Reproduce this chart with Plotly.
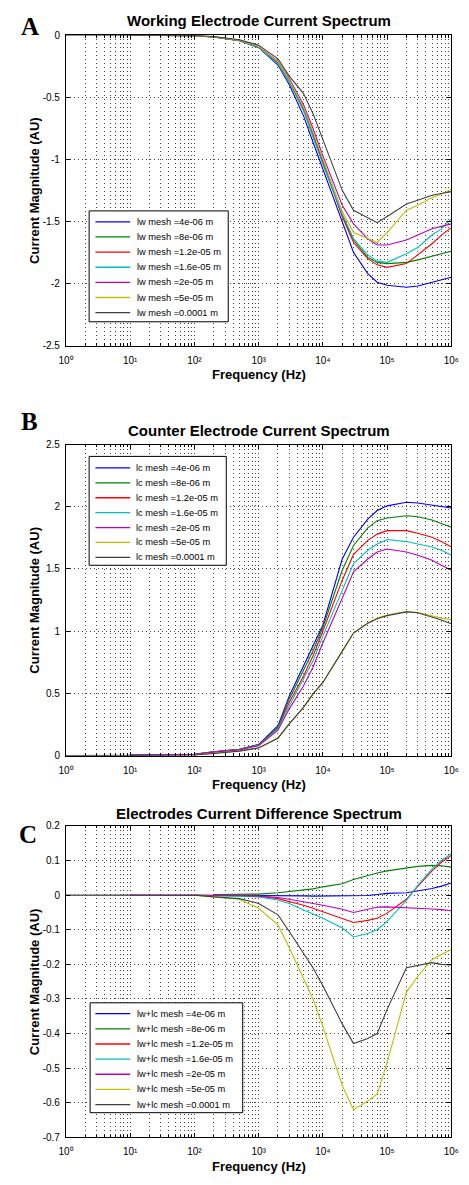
import plotly.graph_objects as go

W, H = 469, 1185

# ---------------- data ----------------
freq = [1, 10, 100, 200, 500, 1e3, 2e3, 3e3, 5e3, 7e3, 1e4, 2e4, 3e4, 5e4, 7e4,
        1e5, 2e5, 3e5, 5e5, 7e5, 1e6]

mesh_sizes = ['4e-06', '8e-06', '1.2e-05', '1.6e-05', '2e-05', '5e-05', '0.0001']
line_colors = ['#0000ff', '#008000', '#ff0000', '#00bfbf', '#bf00bf', '#bfbf00', '#404040']

# Panel A: working electrode current
work_4e6 = [None, 0, -0.005, -0.015, -0.045, -0.10, -0.24, -0.40, -0.65, -0.86, -1.08, -1.50, -1.75, -1.92, -1.99, -2.015, -2.03, -2.02, -1.99, -1.97, -1.95]
work_8e6 = [None, 0, -0.005, -0.014, -0.043, -0.095, -0.225, -0.37, -0.60, -0.80, -1.03, -1.45, -1.65, -1.79, -1.83, -1.84, -1.83, -1.81, -1.78, -1.76, -1.74]
work_12e6 = [None, 0, -0.005, -0.014, -0.043, -0.095, -0.22, -0.37, -0.59, -0.79, -1.02, -1.46, -1.67, -1.80, -1.85, -1.87, -1.84, -1.77, -1.68, -1.61, -1.55]
work_16e6 = [None, 0, -0.005, -0.015, -0.044, -0.098, -0.23, -0.38, -0.61, -0.82, -1.04, -1.44, -1.64, -1.77, -1.82, -1.83, -1.76, -1.71, -1.61, -1.56, -1.48]
work_2e5 = [None, 0, -0.004, -0.013, -0.040, -0.09, -0.21, -0.35, -0.56, -0.75, -0.97, -1.37, -1.52, -1.64, -1.69, -1.69, -1.65, -1.61, -1.56, -1.54, -1.52]
work_5e5 = [None, 0, -0.004, -0.013, -0.041, -0.09, -0.215, -0.36, -0.58, -0.78, -1.00, -1.42, -1.59, -1.64, -1.67, -1.59, -1.41, -1.37, -1.31, -1.28, -1.24]
work_1e4 = [0, 0, -0.003, -0.011, -0.036, -0.08, -0.19, -0.33, -0.47, -0.63, -0.84, -1.25, -1.41, -1.47, -1.51, -1.46, -1.36, -1.33, -1.29, -1.275, -1.26]

# Panel B: counter electrode current
count_4e6 = [None, 0.005, 0.01, 0.03, 0.05, 0.09, 0.24, 0.48, 0.72, 0.88, 1.05, 1.58, 1.755, 1.90, 1.97, 2.007, 2.036, 2.03, 2.015, 2.0, 1.99]
count_8e6 = [None, 0.005, 0.01, 0.03, 0.05, 0.088, 0.23, 0.456, 0.68, 0.84, 1.03, 1.49, 1.689, 1.83, 1.888, 1.909, 1.928, 1.92, 1.893, 1.865, 1.835]
count_12e6 = [None, 0.005, 0.01, 0.03, 0.048, 0.085, 0.22, 0.43, 0.64, 0.80, 1.0, 1.41, 1.617, 1.73, 1.78, 1.808, 1.808, 1.787, 1.755, 1.72, 1.676]
count_16e6 = [None, 0.005, 0.01, 0.029, 0.047, 0.083, 0.217, 0.40, 0.615, 0.76, 0.96, 1.33, 1.543, 1.65, 1.70, 1.737, 1.72, 1.70, 1.676, 1.65, 1.61]
count_2e5 = [None, 0.005, 0.01, 0.028, 0.045, 0.08, 0.204, 0.376, 0.562, 0.71, 0.907, 1.265, 1.477, 1.58, 1.636, 1.66, 1.636, 1.61, 1.57, 1.53, 1.49]
count_5e5 = [None, None, 0.005, 0.018, 0.037, 0.063, 0.143, 0.257, 0.39, 0.496, 0.59, 0.84, 0.986, 1.066, 1.105, 1.13, 1.158, 1.15, 1.12, 1.105, 1.092]
count_1e4 = [0, 0.002, 0.005, 0.017, 0.036, 0.062, 0.14, 0.255, 0.388, 0.494, 0.588, 0.838, 0.985, 1.064, 1.10, 1.125, 1.155, 1.148, 1.115, 1.09, 1.06]

# Panel C: electrodes current difference
diff_4e6 = [None, None, None, 0, 0, 0, 0, -0.001, -0.002, -0.003, -0.003, -0.003, -0.003, -0.001, 0.002, 0.005, 0.007, 0.012, 0.019, 0.026, 0.035]
diff_8e6 = [None, None, None, 0.002, 0.002, 0.003, 0.007, 0.010, 0.014, 0.018, 0.024, 0.033, 0.045, 0.057, 0.064, 0.070, 0.079, 0.083, 0.086, 0.085, 0.081]
diff_12e6 = [None, None, 0, -0.001, -0.002, -0.003, -0.010, -0.018, -0.029, -0.038, -0.048, -0.067, -0.079, -0.073, -0.067, -0.052, -0.012, 0.025, 0.070, 0.095, 0.115]
diff_16e6 = [None, None, 0, -0.001, -0.002, -0.005, -0.014, -0.024, -0.043, -0.055, -0.067, -0.095, -0.121, -0.111, -0.100, -0.076, -0.015, 0.028, 0.075, 0.100, 0.120]
diff_2e5 = [None, 0, 0, 0, -0.001, -0.003, -0.007, -0.012, -0.019, -0.024, -0.029, -0.041, -0.050, -0.041, -0.035, -0.034, -0.036, -0.038, -0.040, -0.042, -0.045]
diff_5e5 = [None, None, 0, -0.005, -0.012, -0.038, -0.086, -0.152, -0.239, -0.30, -0.38, -0.55, -0.62, -0.595, -0.574, -0.484, -0.28, -0.235, -0.186, -0.172, -0.157]
diff_1e4 = [0, 0, 0, -0.005, -0.010, -0.024, -0.057, -0.105, -0.166, -0.21, -0.262, -0.372, -0.429, -0.414, -0.400, -0.330, -0.210, -0.203, -0.195, -0.200, -0.202]

xtick_vals = [1, 10, 100, 1e3, 1e4, 1e5, 1e6]
xtick_text = ['10\u2070', '10\u00b9', '10\u00b2', '10\u00b3', '10\u2074', '10\u2075', '10\u2076']
xminor_vals = [m * 10 ** e for e in range(6) for m in range(2, 10)]

ytick_vals_A = [0, -0.5, -1, -1.5, -2, -2.5]
ytick_text_A = ['0', '-0.5', '-1', '-1.5', '-2', '-2.5']
ytick_vals_B = [0, 0.5, 1, 1.5, 2, 2.5]
ytick_text_B = ['0', '0.5', '1', '1.5', '2', '2.5']
ytick_vals_C = [0.2, 0.1, 0, -0.1, -0.2, -0.3, -0.4, -0.5, -0.6, -0.7]
ytick_text_C = ['0.2', '0.1', '0', '-0.1', '-0.2', '-0.3', '-0.4', '-0.5', '-0.6', '-0.7']

titles = ['Working Electrode Current Spectrum', 'Counter Electrode Current Spectrum',
          'Electrodes Current Difference Spectrum']
legend_prefix = ['lw mesh =', 'lc mesh =', 'lw+lc mesh =']
panel_letters = ['A', 'B', 'C']
xlabel = 'Frequency (Hz)'
ylabel = 'Current Magnitude (AU)'

panel_series = [
    [work_4e6, work_8e6, work_12e6, work_16e6, work_2e5, work_5e5, work_1e4],
    [count_4e6, count_8e6, count_12e6, count_16e6, count_2e5, count_5e5, count_1e4],
    [diff_4e6, diff_8e6, diff_12e6, diff_16e6, diff_2e5, diff_5e5, diff_1e4],
]

# ---------------- layout geometry (pixels) ----------------
SANS = 'Liberation Sans, Arial, Helvetica, sans-serif'
SERIF = 'Liberation Serif, Times New Roman, serif'
XL, XR = 60, 459
panels_px = [(29.5, 343.0), (443.0, 757.3), (828.3, 1143.0)]
y_ranges = [[-2.5, 0], [0, 2.5], [-0.7, 0.2]]
ytick_vals = [ytick_vals_A, ytick_vals_B, ytick_vals_C]
ytick_text = [ytick_text_A, ytick_text_B, ytick_text_C]
legend_boxes = [(84, 207, 228, 319), (84, 455, 226, 565), (85, 1007, 243, 1118)]
legend_first = [218.0, 466.7, 1018.0]
legend_step = [15.3, 15.05, 15.3]
legend_text_x = [131, 130, 131.5]
title_y = [14.5, 429.0, 815.5]
letter_pos = [(23, 21), (22, 420), (21, 837)]


def px(x):
    return x / W


def py(y):
    return 1 - y / H


GRID = '#444444'
DOT = '1px,3px'

fig = go.Figure()
shapes = []
annotations = []
layout = {}

for p in range(3):
    sfx = '' if p == 0 else str(p + 1)
    xname, yname = 'x' + sfx, 'y' + sfx
    top, bot = panels_px[p]
    for k, ser in enumerate(panel_series[p]):
        fig.add_trace(go.Scatter(
            x=freq, y=ser, mode='lines', xaxis=xname, yaxis=yname,
            line=dict(color=line_colors[k], width=1.1),
            name=legend_prefix[p] + mesh_sizes[k] + ' m', showlegend=False,
            hoverinfo='skip'))
    layout['xaxis' + sfx] = dict(
        type='log', range=[0, 6], domain=[px(XL), px(XR)], anchor=yname,
        tickmode='array', tickvals=xtick_vals, ticktext=xtick_text,
        ticks='inside', ticklen=4, tickcolor='black', tickwidth=1,
        showline=True, linecolor='black', linewidth=1, mirror='allticks',
        showgrid=True, gridcolor=GRID, gridwidth=1, griddash=DOT,
        minor=dict(tickmode='array', tickvals=xminor_vals, ticks='inside', ticklen=2.5,
                   tickcolor='black', tickwidth=1, showgrid=True, gridcolor=GRID,
                   gridwidth=1, griddash=DOT),
        tickfont=dict(family=SANS, size=10, color='black'),
        zeroline=False, ticklabelstandoff=5)
    layout['yaxis' + sfx] = dict(
        range=y_ranges[p], domain=[py(bot), py(top)], anchor=xname,
        tickmode='array', tickvals=ytick_vals[p], ticktext=ytick_text[p],
        ticks='inside', ticklen=4, tickcolor='black', tickwidth=1,
        showline=True, linecolor='black', linewidth=1, mirror='allticks',
        showgrid=True, gridcolor=GRID, gridwidth=1, griddash=DOT,
        tickfont=dict(family=SANS, size=10, color='black'),
        zeroline=False, ticklabelstandoff=3)

    annotations.append(dict(text='<b>' + titles[p] + '</b>', x=px((XL + XR) / 2), y=py(title_y[p]),
                            xref='paper', yref='paper', xanchor='center', yanchor='middle',
                            showarrow=False, font=dict(family=SANS, size=15, color='black')))
    annotations.append(dict(text='<b>' + xlabel + '</b>', x=px((XL + XR) / 2), y=py(bot + 29.5),
                            xref='paper', yref='paper', xanchor='center', yanchor='middle',
                            showarrow=False, font=dict(family=SANS, size=13, color='black')))
    annotations.append(dict(text='<b>' + ylabel + '</b>', x=px(27.5), y=py((top + bot) / 2),
                            xref='paper', yref='paper', xanchor='center', yanchor='middle',
                            textangle=-90, showarrow=False,
                            font=dict(family=SANS, size=13, color='black')))
    lx, ly = letter_pos[p]
    annotations.append(dict(text='<b>' + panel_letters[p] + '</b>', x=px(lx), y=py(ly),
                            xref='paper', yref='paper', xanchor='center', yanchor='middle',
                            showarrow=False, font=dict(family=SERIF, size=25, color='black')))
    x0, y0, x1, y1 = legend_boxes[p]
    shapes.append(dict(type='rect', xref='paper', yref='paper', x0=px(x0), x1=px(x1),
                       y0=py(y1), y1=py(y0), line=dict(color='black', width=1),
                       fillcolor='white', layer='above'))
    for k in range(7):
        yy = legend_first[p] + k * legend_step[p]
        shapes.append(dict(type='line', xref='paper', yref='paper', x0=px(90.5), x1=px(126.5),
                           y0=py(yy), y1=py(yy), line=dict(color=line_colors[k], width=1.3),
                           layer='above'))
        annotations.append(dict(text=legend_prefix[p] + mesh_sizes[k] + ' m',
                                x=px(legend_text_x[p]), y=py(yy), xref='paper', yref='paper',
                                xanchor='left', yanchor='middle', showarrow=False,
                                font=dict(family=SANS, size=9.3, color='black')))

fig.update_layout(
    width=W, height=H, margin=dict(l=0, r=0, t=0, b=0),
    paper_bgcolor='white', plot_bgcolor='white', showlegend=False,
    shapes=shapes, annotations=annotations, **layout)

fig.write_html('out.html', config={'displayModeBar': False, 'staticPlot': True},
               post_script="document.body.style.margin='0';document.body.style.overflow='hidden';")
